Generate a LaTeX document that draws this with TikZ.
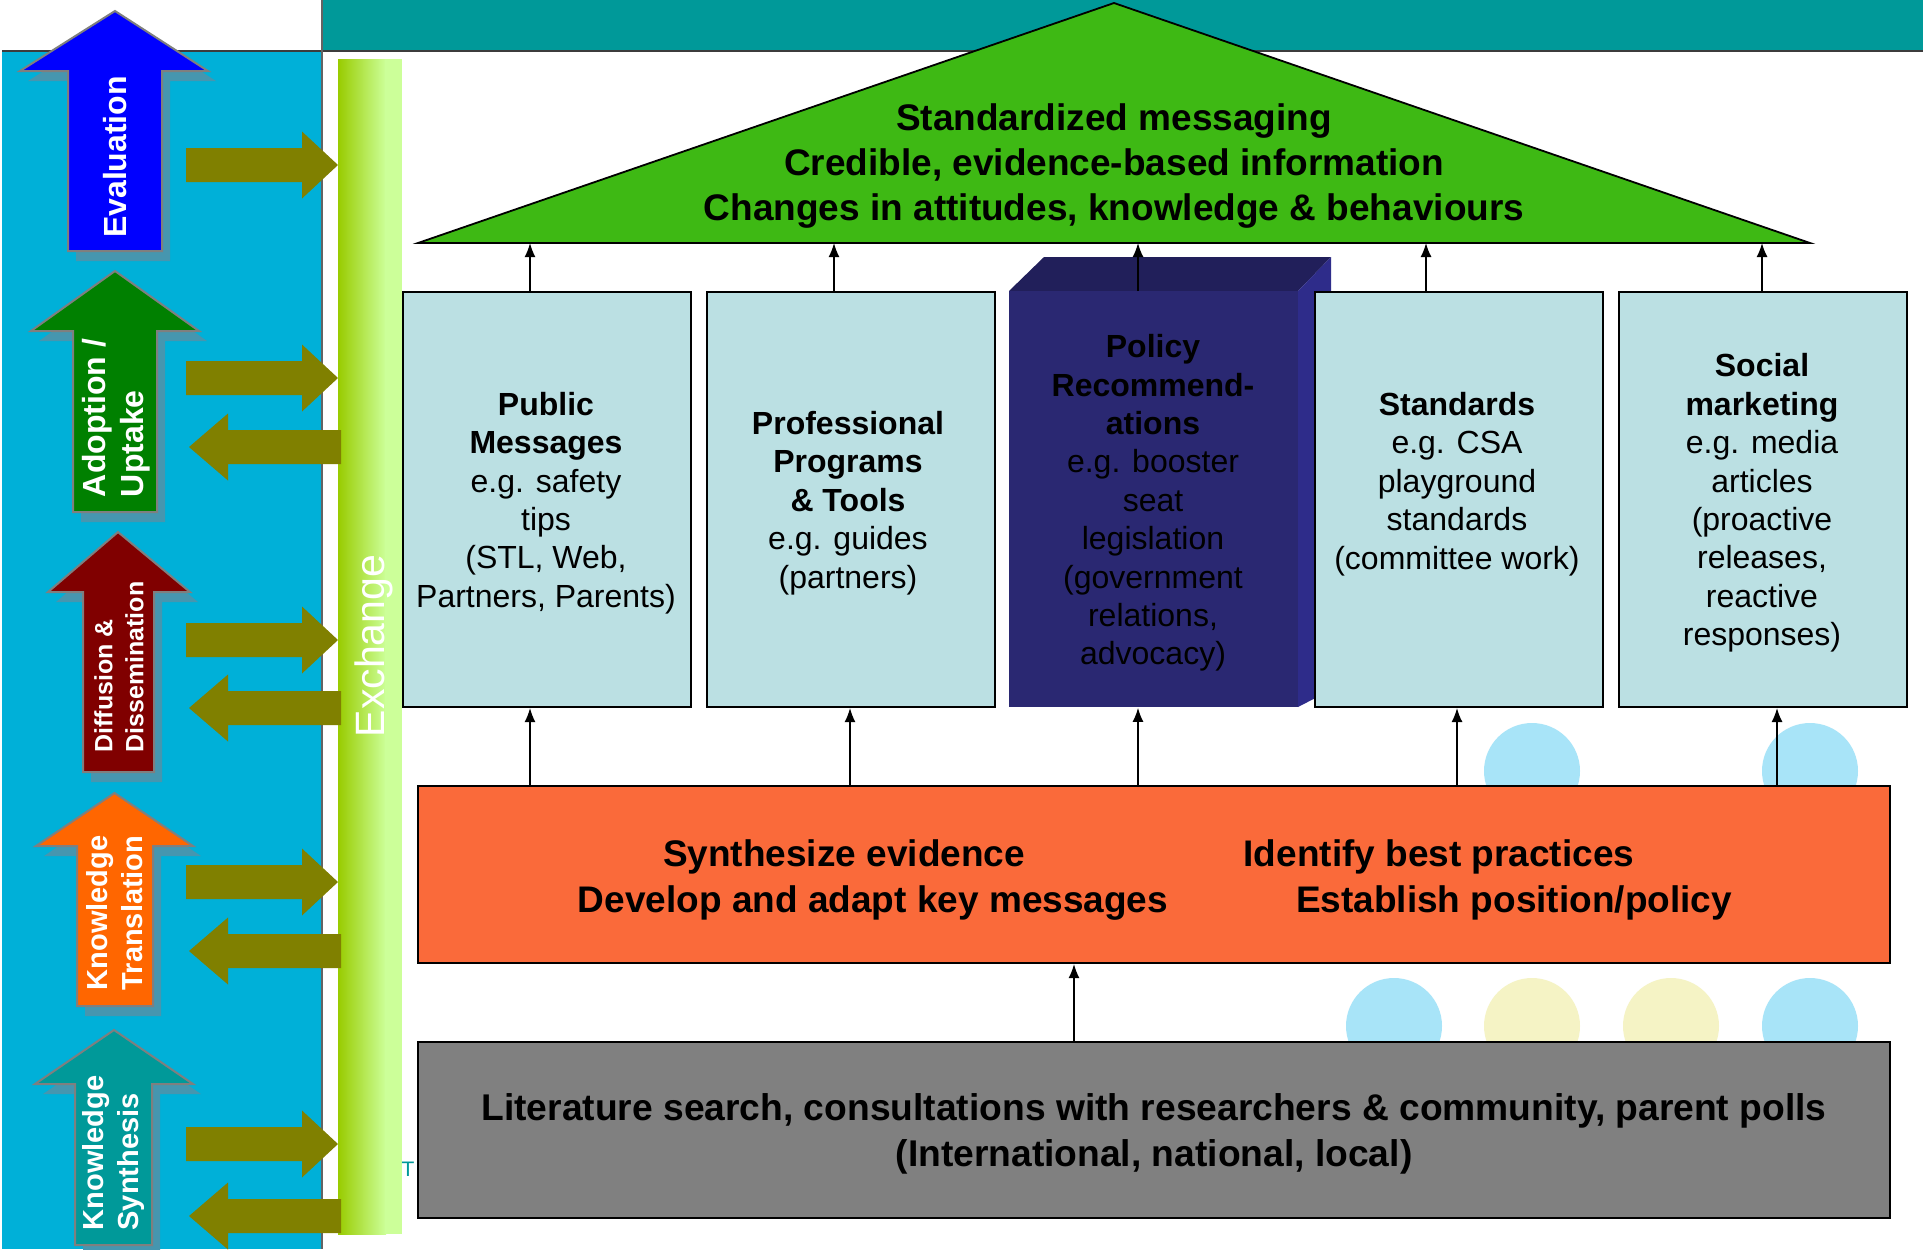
\documentclass[tikz,border=0pt]{standalone}
\usepackage{fontspec}
\setmainfont{Liberation Sans}
\usetikzlibrary{arrows.meta,calc}
\definecolor{cyanbg}{RGB}{0,176,216}
\definecolor{tealbar}{RGB}{0,153,153}
\definecolor{oliveA}{RGB}{128,128,0}
\definecolor{exL}{RGB}{153,204,0}
\definecolor{exR}{RGB}{204,255,153}
\definecolor{triG}{RGB}{62,185,20}
\definecolor{boxC}{RGB}{187,224,227}
\definecolor{orangeB}{RGB}{250,106,58}
\definecolor{grayB}{RGB}{128,128,128}
\definecolor{polF}{RGB}{42,40,114}
\definecolor{polT}{RGB}{33,31,90}
\definecolor{polS}{RGB}{46,44,138}
\definecolor{circB}{RGB}{168,228,248}
\definecolor{circY}{RGB}{245,243,197}
\definecolor{arrShadow}{RGB}{70,150,175}
\definecolor{arrLine}{RGB}{127,127,127}
\definecolor{evalB}{RGB}{0,0,255}
\definecolor{adoptG}{RGB}{0,128,0}
\definecolor{diffR}{RGB}{128,0,0}
\definecolor{ktO}{RGB}{255,102,0}
\definecolor{ksT}{RGB}{0,153,153}
\definecolor{rule}{RGB}{60,60,60}
% right-pointing olive arrow, centre y
\newcommand{\OlivRight}[1]{\fill[oliveA] (186,#1-17) -- (302,#1-17) -- (302,#1-33.5) -- (338,#1) -- (302,#1+33.5) -- (302,#1+17) -- (186,#1+17) -- cycle;}
% left-pointing olive arrow, centre y
\newcommand{\OlivLeft}[1]{\fill[oliveA] (341,#1-17) -- (228,#1-17) -- (228,#1-33.5) -- (189,#1) -- (228,#1+33.5) -- (228,#1+17) -- (341,#1+17) -- cycle;}
% big up arrow: colour, tipx, tipy, head base y, head left, head right, shaft left, shaft right, bottom
\newcommand{\BigUp}[9]{%
  \fill[arrShadow,shift={(8,10)}] (#2,#3) -- (#6,#4) -- (#8,#4) -- (#8,#9) -- (#7,#9) -- (#7,#4) -- (#5,#4) -- cycle;
  \filldraw[fill=#1,draw=arrLine,line width=1pt,line join=miter] (#2,#3) -- (#6,#4) -- (#8,#4) -- (#8,#9) -- (#7,#9) -- (#7,#4) -- (#5,#4) -- cycle;}
\begin{document}
\begin{tikzpicture}[x=0.5pt,y=-0.5pt,
  pbox/.style={draw=black,line width=1pt,fill=boxC,minimum width=144pt,minimum height=207.5pt,inner sep=0pt,anchor=north west},
  boxtxt/.style={align=center,font=\fontsize{16}{19.2}\selectfont,inner sep=0pt},
  bigtxt/.style={font=\fontsize{18.5}{22.4}\selectfont\bfseries,inner sep=0pt},
  lbl/.style={text=white,rotate=90,align=left,inner sep=0pt},
  arr/.style={-{Latex[length=7pt,width=5.5pt]},line width=0.8pt}]
\useasboundingbox (0,0) rectangle (1923,1249);
\fill[white] (0,0) rectangle (1923,1249);
% backgrounds
\fill[tealbar] (322,0) rectangle (1923,51);
\fill[cyanbg] (2,51) rectangle (322,1249);
\draw[rule,line width=0.75pt] (2,51) -- (1923,51);
\draw[rule!80,line width=0.75pt] (322,0) -- (322,1249);
% exchange bar
\shade[left color=exL,right color=exR] (338,59) rectangle (386,1234);
\fill[exR] (385,59) rectangle (402,1234);
\node[text=white,rotate=90,font=\fontsize{20.5}{24}\selectfont,inner sep=0pt] (exch) at (374,646) {Exchange};
% big stage arrows
\BigUp{evalB}{115}{11}{71}{20}{208}{68}{162}{251}
\BigUp{adoptG}{115}{271}{331}{31}{199}{73}{157}{512}
\BigUp{diffR}{118}{532}{592}{48}{190}{83}{154}{772}
\BigUp{ktO}{114.5}{793}{846}{36}{193}{77}{153}{1006}
\BigUp{ksT}{114}{1030}{1084}{35}{193}{75}{152}{1245}
\node[lbl,font=\fontsize{16}{19}\selectfont\bfseries] (lev) at (115,157) {Evaluation};
\node[lbl,font=\fontsize{16}{19}\selectfont\bfseries] (lad) at (116,418) {Adoption /\\Uptake};
\node[lbl,font=\fontsize{12.5}{15.5}\selectfont\bfseries] (ldi) at (119,667) {Diffusion \&\\Dissemination};
\node[lbl,font=\fontsize{14.5}{17.5}\selectfont\bfseries] (lkt) at (115,913) {Knowledge\\Translation};
\node[lbl,font=\fontsize{14.5}{17.5}\selectfont\bfseries] (lks) at (114,1153) {Knowledge\\Synthesis};
% olive exchange arrows
\OlivRight{165}
\OlivRight{378}
\OlivLeft{447}
\OlivRight{640}
\OlivLeft{708}
\OlivRight{882}
\OlivLeft{951}
\OlivRight{1144}
\OlivLeft{1216}
\node[text=tealbar,font=\fontsize{10.5}{12}\selectfont,inner sep=0pt] (tstray) at (408,1169) {T};
% decorative circles
\fill[circB] (1532,771) circle[radius=48];
\fill[circB] (1810,771) circle[radius=48];
\fill[circB] (1394,1026) circle[radius=48];
\fill[circY] (1532,1026) circle[radius=48];
\fill[circY] (1671,1026) circle[radius=48];
\fill[circB] (1810,1026) circle[radius=48];
% roof triangle
\filldraw[fill=triG,draw=black,line width=0.9pt,line join=miter] (418,243) -- (1114,3) -- (1810,243) -- cycle;
\coordinate (tribase) at (0,243);
\node[bigtxt,align=center] (title) at (1114,166) {Standardized messaging\\Credible, evidence-based information\\Changes in attitudes, knowledge \& behaviours};
% policy block (3D)
\fill[polT] (1009,291) -- (1044,257) -- (1331,257) -- (1298,291) -- cycle;
\fill[polS] (1298,291) -- (1331,257) -- (1331,690) -- (1298,707) -- cycle;
\node[fill=polF,minimum width=144.5pt,minimum height=208pt,inner sep=0pt,anchor=north west] (b3) at (1009,291) {};
% pillars
\node[pbox] (b1) at (402,291) {};
\node[pbox] (b2) at (706,291) {};
\node[pbox] (b4) at (1314,291) {};
\node[pbox] (b5) at (1618,291) {};
\node[boxtxt] (t1) at (546,503) {\textbf{Public}\\\textbf{Messages}\\e.g. safety\\tips\\(STL, Web,\\Partners, Parents)};
\node[boxtxt] (t2) at (848,503) {\textbf{Professional}\\\textbf{Programs}\\\textbf{\& Tools}\\e.g. guides\\(partners)};
\node[boxtxt] (t3) at (1153,503) {\textbf{Policy}\\\textbf{Recommend-}\\\textbf{ations}\\e.g. booster\\seat\\legislation\\(government\\relations,\\advocacy)};
\node[boxtxt] (t4) at (1457,484) {\textbf{Standards}\\e.g. CSA\\playground\\standards\\(committee work)};
\node[boxtxt] (t5) at (1762,503) {\textbf{Social}\\\textbf{marketing}\\e.g. media\\articles\\(proactive\\releases,\\reactive\\responses)};
% orange and gray bars
\node[draw=black,line width=1pt,fill=orangeB,minimum width=736pt,minimum height=88.5pt,inner sep=0pt] (ob) at (1154,874.5) {};
\node[draw=black,line width=1pt,fill=grayB,minimum width=736pt,minimum height=88pt,inner sep=0pt] (gb) at (1154,1130) {};
\node[bigtxt,anchor=base] (o1) at (844,866) {Synthesize evidence};
\node[bigtxt,anchor=base] (o2) at (873,912) {Develop and adapt key messages};
\node[bigtxt,anchor=base] (o3) at (1439,866) {Identify best practices};
\node[bigtxt,anchor=base] (o4) at (1514,912) {Establish position/policy};
\node[bigtxt,align=center,font=\fontsize{18.6}{22.7}\selectfont\bfseries] (g1t) at (1154,1134) {Literature search, consultations with researchers \& community, parent polls\\(International, national, local)};
% connector x positions
\coordinate (u1) at (530,0);
\coordinate (u2) at (834,0);
\coordinate (u3) at (1138,0);
\coordinate (u4) at (1426,0);
\coordinate (u5) at (1762,0);
\coordinate (d1) at (530,0);
\coordinate (d2) at (850,0);
\coordinate (d3) at (1138,0);
\coordinate (d4) at (1457,0);
\coordinate (d5) at (1777,0);
\coordinate (gx) at (1074,0);
\draw[arr] (b1.north -| u1) -- (tribase -| u1);
\draw[arr] (b2.north -| u2) -- (tribase -| u2);
\draw[arr] (b3.north -| u3) -- (tribase -| u3);
\draw[arr] (b4.north -| u4) -- (tribase -| u4);
\draw[arr] (b5.north -| u5) -- (tribase -| u5);
\draw[arr] (ob.north -| d1) -- (b1.south -| d1);
\draw[arr] (ob.north -| d2) -- (b2.south -| d2);
\draw[arr] (ob.north -| d3) -- (b3.south -| d3);
\draw[arr] (ob.north -| d4) -- (b4.south -| d4);
\draw[arr] (ob.north -| d5) -- (b5.south -| d5);
\draw[arr] (gb.north -| gx) -- (ob.south -| gx);
\end{tikzpicture}
\end{document}
